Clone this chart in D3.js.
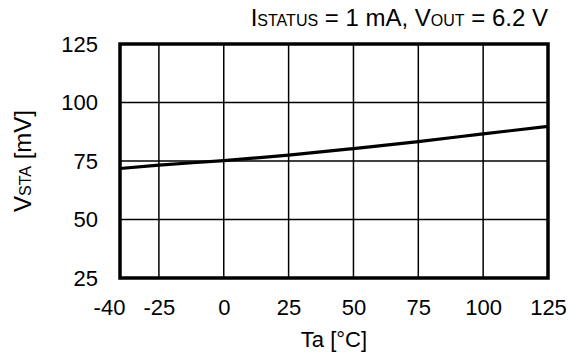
<!DOCTYPE html>
<html><head><meta charset="utf-8">
<script src="https://cdn.jsdelivr.net/npm/d3@7"></script>
<style>body{margin:0;background:#fff;} text{font-family:"Liberation Sans",Arial,sans-serif;fill:#000;}</style>
</head><body>
<svg id="c" width="569" height="356"></svg>
<script>
const temps = [-40, -25, 0, 25, 50, 75, 100, 125];
const vsta = [71.8, 73.2, 75.2, 77.5, 80.3, 83.3, 86.6, 89.8];
const xTicks = [-40, -25, 0, 25, 50, 75, 100, 125];
const yTicks = [25, 50, 75, 100, 125];

const svg = d3.select("#c");
const L = 120, R = 548, T = 44, B = 278;
const x = d3.scaleLinear().domain([-40, 125]).range([L, R]);
const y = d3.scaleLinear().domain([25, 125]).range([B, T]);
const fs = 22;

// grid
svg.append("g").selectAll("line").data(xTicks.slice(1, -1)).join("line")
  .attr("x1", d => x(d)).attr("x2", d => x(d)).attr("y1", T).attr("y2", B)
  .attr("stroke", "#000").attr("stroke-width", 1.5);
svg.append("g").selectAll("line").data(yTicks.slice(1, -1)).join("line")
  .attr("y1", d => y(d)).attr("y2", d => y(d)).attr("x1", L).attr("x2", R)
  .attr("stroke", "#000").attr("stroke-width", 1.5);

// curve
const line = d3.line().x((d, i) => x(temps[i])).y(d => y(d)).curve(d3.curveMonotoneX);
svg.append("path").datum(vsta).attr("d", line).attr("fill", "none")
  .attr("stroke", "#000").attr("stroke-width", 3.2);

// frame
svg.append("rect").attr("x", L).attr("y", T).attr("width", R - L).attr("height", B - T)
  .attr("fill", "none").attr("stroke", "#000").attr("stroke-width", 3.5);

// axes labels via d3 axes
const xAxis = d3.axisBottom(x).tickValues(xTicks).tickSize(0).tickPadding(0).tickFormat(d => d);
const gx = svg.append("g").attr("transform", `translate(0,${B})`).call(xAxis);
gx.select(".domain").remove();
gx.selectAll("text").attr("font-size", fs).attr("font-family", "Liberation Sans, Arial, sans-serif")
  .attr("dy", null).attr("y", 37)
  .attr("dx", d => d === -40 ? -11 : 0);

const yAxis = d3.axisLeft(y).tickValues(yTicks).tickSize(0).tickPadding(22).tickFormat(d => d);
const gy = svg.append("g").attr("transform", `translate(${L},0)`).call(yAxis);
gy.select(".domain").remove();
gy.selectAll("text").attr("font-size", fs).attr("font-family", "Liberation Sans, Arial, sans-serif");

// x title
svg.append("text").attr("x", x(42.5)).attr("y", 347).attr("text-anchor", "middle")
  .attr("font-size", fs).text("Ta [°C]");

// y title
const yt = svg.append("text").attr("transform", `translate(31,${(T + B) / 2}) rotate(-90)`)
  .attr("text-anchor", "middle").attr("font-size", 24);
yt.append("tspan").text("V");
yt.append("tspan").attr("font-size", 16).text("STA");
yt.append("tspan").text(" [mV]");

// condition title
const ct = svg.append("text").attr("x", 548).attr("y", 26).attr("text-anchor", "end").attr("font-size", 24);
ct.append("tspan").text("I");
ct.append("tspan").attr("font-size", 16).text("STATUS");
ct.append("tspan").text(" = 1 mA, V");
ct.append("tspan").attr("font-size", 16).text("OUT");
ct.append("tspan").text(" = 6.2 V");
</script>
</body></html>
